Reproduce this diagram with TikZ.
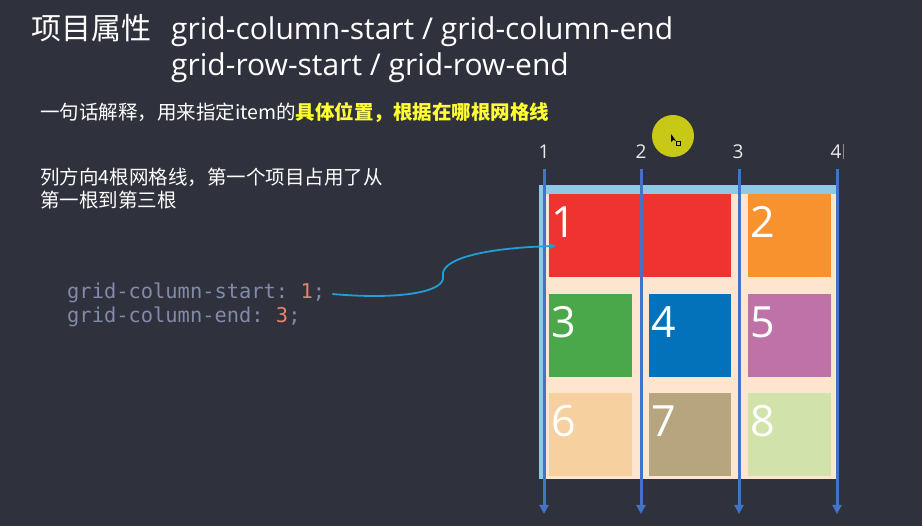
\documentclass[tikz,border=0pt]{standalone}
\usepackage{fontspec}
\setmainfont{Open Sans}
\newfontfamily\cjk{Noto Sans CJK SC}
\setmonofont{DejaVu Sans Mono}
\usetikzlibrary{arrows.meta}
\definecolor{bg}{RGB}{47,49,61}
\definecolor{peach}{RGB}{253,229,207}
\definecolor{lblue}{RGB}{142,202,230}
\definecolor{gline}{RGB}{68,114,196}
\definecolor{ired}{RGB}{239,51,48}
\definecolor{iorange}{RGB}{247,146,47}
\definecolor{igreen}{RGB}{74,168,74}
\definecolor{iblue}{RGB}{4,114,187}
\definecolor{ipurple}{RGB}{191,114,168}
\definecolor{isand}{RGB}{246,208,159}
\definecolor{ikhaki}{RGB}{183,165,128}
\definecolor{ilime}{RGB}{209,227,170}
\definecolor{hyellow}{RGB}{255,255,50}
\definecolor{codegray}{RGB}{130,138,170}
\definecolor{codenum}{RGB}{232,131,106}
\definecolor{curve}{RGB}{30,160,215}
\definecolor{spot}{RGB}{200,200,22}
\tikzset{
  item/.style={draw=none, inner sep=0pt, minimum width=#1, minimum height=83pt, anchor=north west},
  itemnum/.style={text=white, inner sep=0pt, anchor=base west, font=\fontsize{43}{43}\selectfont},
  gridline/.style={draw=gline, line width=3pt, -{Triangle[width=9pt,length=9pt]}},
  linenum/.style={text=black!8, inner sep=0pt, anchor=base, font=\fontsize{19}{19}\selectfont},
  plain/.style={inner sep=0pt, anchor=base west, text=white},
  codetext/.style={inner sep=0pt, anchor=base west, text=codegray, font=\ttfamily\fontsize{20.4}{20.4}\selectfont},
}
\begin{document}
\begin{tikzpicture}[x=1pt,y=-1pt]
\useasboundingbox[fill=bg] (0,0) rectangle (922,526);
% titles
\node[plain, font=\cjk\fontsize{30}{30}\selectfont] (title) at (31,40) {项目属性};
\node[plain, font=\fontsize{30}{30}\selectfont] (prop1) at (171,40) {grid-column-start / grid-column-end};
\node[plain, font=\fontsize{30}{30}\selectfont] (prop2) at (171,76) {grid-row-start / grid-row-end};
\node[plain, font=\cjk\fontsize{19.5}{19.5}\selectfont] (sub) at (40,120) {一句话解释，用来指定item的\textcolor{hyellow}{\bfseries 具体位置，根据在哪根网格线}};
\node[plain, font=\cjk\fontsize{19.5}{19.5}\selectfont] (desc1) at (40,185) {列方向4根网格线，第一个项目占用了从};
\node[plain, font=\cjk\fontsize{19.5}{19.5}\selectfont] (desc2) at (40,208) {第一根到第三根};
% code
\node[codetext] (code1) at (67,299) {grid-column-start: \textcolor{codenum}{1};};
\node[codetext] (code2) at (67,323) {grid-column-end: \textcolor{codenum}{3};};
% container
\fill[peach] (539,185) rectangle (836,479);
\fill[lblue] (539,185) rectangle (836,194);
\fill[lblue] (539,185) rectangle (546,479);
% items
\node[item=182pt, fill=ired] (i1) at (549,194) {};
\node[item=83pt, fill=iorange] (i2) at (748,194) {};
\node[item=83pt, fill=igreen] (i3) at (549,294) {};
\node[item=82pt, fill=iblue] (i4) at (649,294) {};
\node[item=83pt, fill=ipurple] (i5) at (748,294) {};
\node[item=83pt, fill=isand] (i6) at (549,393) {};
\node[item=82pt, fill=ikhaki] (i7) at (649,393) {};
\node[item=83pt, fill=ilime] (i8) at (748,393) {};
\foreach \n in {1,...,8} {
  \node[itemnum] (n\n) at ([xshift=2pt,yshift=-44pt]i\n.north west) {\n};
}
% grid line labels
\node[linenum] (g1) at (544,159) {1};
\node[linenum] (g2) at (641,159) {2};
\node[linenum] (g3) at (738,159) {3};
\node[linenum] (g4) at (836,159) {4};
\draw[black!45, line width=0.8pt] ([xshift=2pt]g4.base east) -- ++(0,-15);
% grid lines
\foreach \x [count=\i] in {544,641,739,837} {
  \coordinate (top\i) at (\x,169);
  \coordinate (bot\i) at (\x,514);
  \draw[gridline] (top\i) -- (bot\i);
}
% highlight spot
\fill[spot] (673,136) circle (21pt);
\fill[black] (671,134) -- (671,142) -- (673,140) -- (676,141) -- cycle;
\draw[black, line width=0.6pt] (676,141) rectangle (680,145);
% connector
\coordinate (cstart) at ([xshift=7pt,yshift=5pt]code1.base east);
\coordinate (cend) at (556,246);
\draw[curve, line width=1.8pt, -{Stealth[length=7pt,width=6pt]}]
  (cstart) .. controls (400,300) and (446,292) .. (443,276)
  .. controls (440,260) and (480,248) .. (cend);
\end{tikzpicture}
\end{document}
